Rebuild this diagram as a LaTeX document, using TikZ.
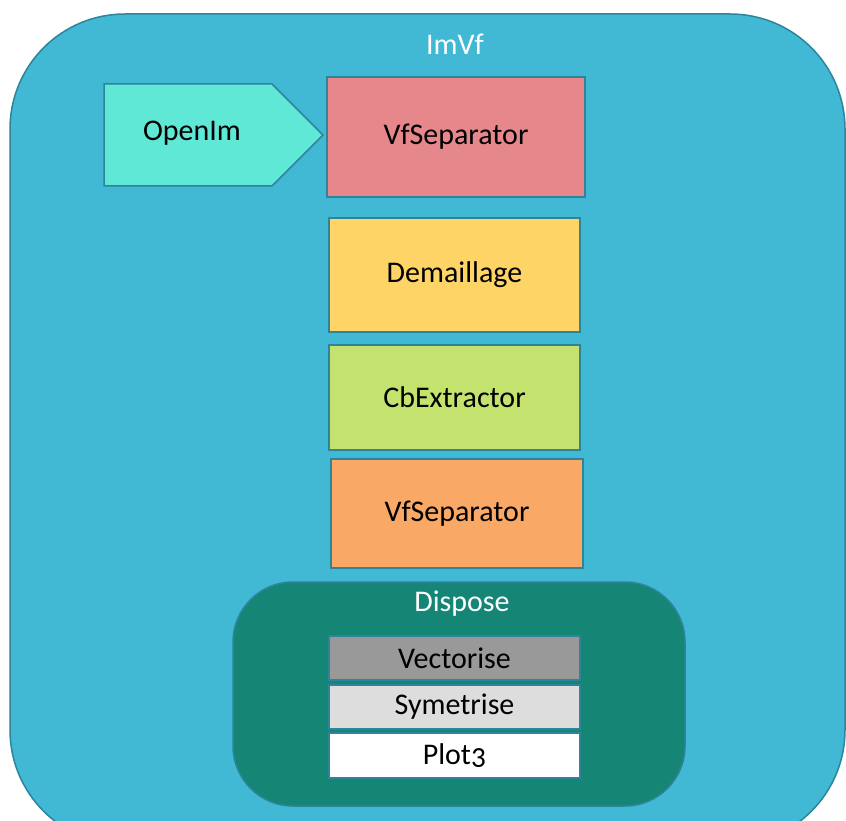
\documentclass[tikz,border=0pt]{standalone}
\usepackage{fontspec}
\setmainfont[Numbers=OldStyle]{Carlito}

\definecolor{imvfBlue}{HTML}{41B8D4}
\definecolor{imvfEdge}{HTML}{2E849B}
\definecolor{openTeal}{HTML}{5FE8D6}
\definecolor{sepRed}{HTML}{E5878B}
\definecolor{demYellow}{HTML}{FFD466}
\definecolor{cbGreen}{HTML}{C4E36E}
\definecolor{sepOrange}{HTML}{F9A866}
\definecolor{dispTeal}{HTML}{158676}
\definecolor{vecGrey}{HTML}{999999}
\definecolor{symGrey}{HTML}{DDDDDD}

\begin{document}
\begin{tikzpicture}[x=1pt, y=-1pt,
    imvfFont/.style={font=\fontsize{30}{36}\selectfont},
    imvfLine/.style={draw=imvfEdge, line width=1.5pt},
    imvfBox/.style={imvfLine, inner sep=0pt, imvfFont},
    imvfStage/.style={imvfBox, minimum width=251},
    imvfTitle/.style={text=white, imvfFont}]

    \useasboundingbox (0,0) rectangle (846,821);
    \clip (0,0) rectangle (846,821);

    % ImVf
    \draw[imvfLine, fill=imvfBlue, rounded corners=115] (10,14) rectangle (845,845);
    \node[imvfTitle] (imvfLabel) at (455,44) {ImVf};

    % Chain
    \draw[imvfLine, fill=openTeal] (104,84) -- (272,84) -- (323,135) -- (272,186) -- (104,186) -- cycle;
    \node[imvfFont] (openIm) at (192,133) {OpenIm};
    \node[imvfBox, fill=sepRed, minimum width=258, minimum height=120] (sepTop) at (456,137) {VfSeparator};
    \node[imvfStage, fill=demYellow, minimum height=114] (demaillage) at (454.5,275) {Demaillage};
    \node[imvfStage, fill=cbGreen, minimum height=105] (cbExtractor) at (454.5,397.5) {CbExtractor};
    \node[imvfStage, fill=sepOrange, minimum width=252, minimum height=109] (sepBottom) at (457,513.5) {VfSeparator};

    % Dispose
    \node[imvfBox, fill=dispTeal, rounded corners=60, minimum width=452, minimum height=224] (dispose) at (459,694) {};
    \node[imvfTitle] (disposeLabel) at (462,604) {Dispose};
    \node[imvfStage, fill=vecGrey, minimum height=44] (vectorise) at (454.5,658) {Vectorise};
    \node[imvfStage, fill=symGrey, minimum height=44] (symetrise) at (454.5,707) {Symetrise};
    \node[imvfStage, fill=white, minimum height=45] (plot) at (454.5,755.5) {Plot3};
\end{tikzpicture}
\end{document}
